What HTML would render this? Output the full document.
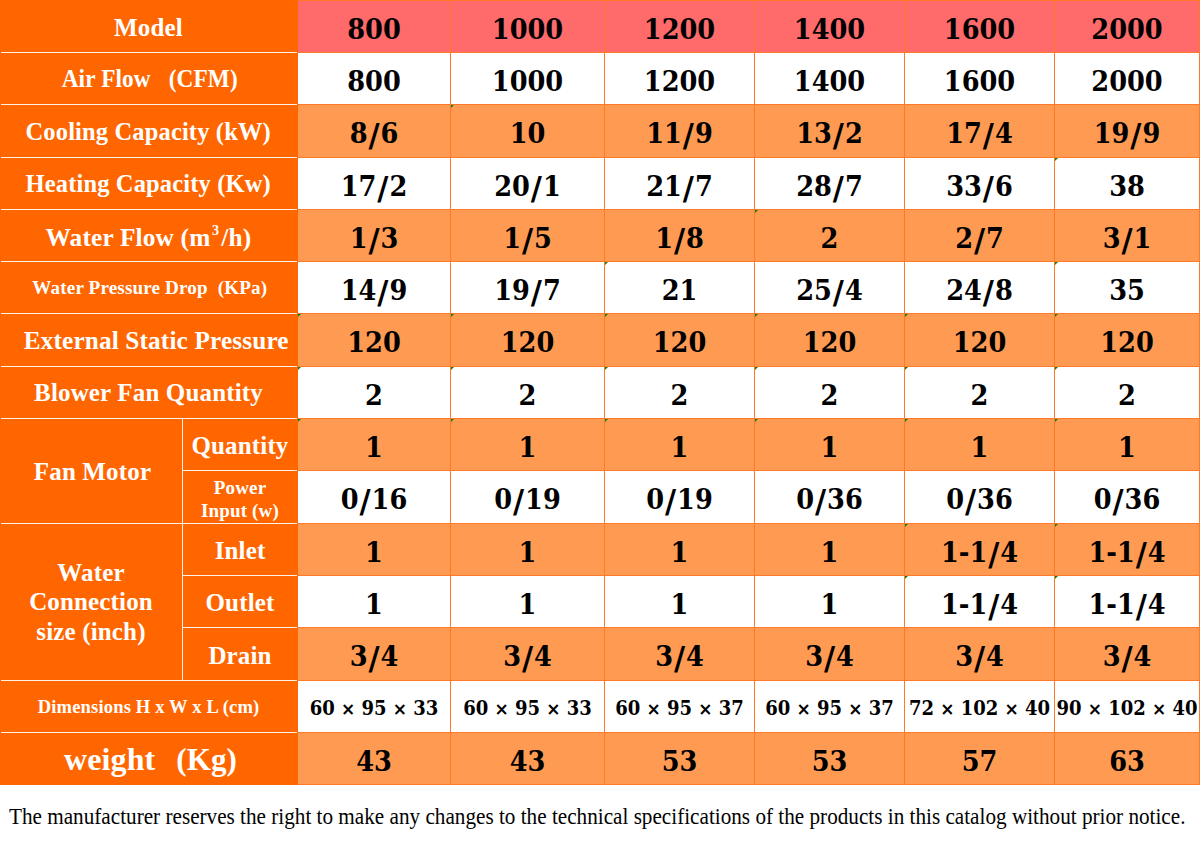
<!DOCTYPE html>
<html><head><meta charset="utf-8"><title>Technical specifications</title>
<style>
html,body{margin:0;padding:0;}
body{width:1200px;height:849px;position:relative;overflow:hidden;background:#fff;}
.b{position:absolute;}
.t{position:absolute;display:flex;align-items:center;justify-content:center;text-align:center;white-space:nowrap;box-sizing:border-box;}
.lb{font-family:"Liberation Serif",serif;font-weight:bold;color:#fff;font-size:25px;letter-spacing:0.15px;line-height:1;}
.g{position:absolute;width:0;height:0;border-top:3px solid #0A850A;border-right:3px solid transparent;}
.in{display:inline-block;transform-origin:50% 50%;}
.num{font-family:"DejaVu Serif",serif;font-weight:bold;color:#000;font-size:27px;line-height:1;padding-top:5px;transform:scaleX(0.95);}
.s{font-family:"DejaVu Sans",sans-serif;font-size:32px;line-height:0;position:relative;top:3px;margin:0 1px;}
.dim{font-family:"DejaVu Serif Condensed","DejaVu Serif",serif;font-size:20px;word-spacing:0;transform:none;padding-top:2px;}
.x{font-family:"DejaVu Sans",sans-serif;font-size:17px;}
.sp{font-size:14px;position:relative;top:-11px;margin:0 2px 0 1.5px;line-height:0;}
.note{position:absolute;left:9px;top:804px;font-family:"Liberation Serif",serif;font-size:23px;color:#000;white-space:nowrap;transform-origin:0 0;transform:scaleX(0.921);line-height:1.15;}
</style></head><body>

<div class="b" style="left:0;top:0;width:298px;height:785px;background:#FF6600"></div>
<div class="b" style="left:298px;top:0px;width:902px;height:52px;background:#FF6A6A"></div>
<div class="b" style="left:298px;top:52px;width:902px;height:52px;background:#FFFFFF"></div>
<div class="b" style="left:298px;top:104px;width:902px;height:53px;background:#FF9A52"></div>
<div class="b" style="left:298px;top:157px;width:902px;height:52px;background:#FFFFFF"></div>
<div class="b" style="left:298px;top:209px;width:902px;height:52px;background:#FF9A52"></div>
<div class="b" style="left:298px;top:261px;width:902px;height:52px;background:#FFFFFF"></div>
<div class="b" style="left:298px;top:313px;width:902px;height:53px;background:#FF9A52"></div>
<div class="b" style="left:298px;top:366px;width:902px;height:52px;background:#FFFFFF"></div>
<div class="b" style="left:298px;top:418px;width:902px;height:52px;background:#FF9A52"></div>
<div class="b" style="left:298px;top:470px;width:902px;height:53px;background:#FFFFFF"></div>
<div class="b" style="left:298px;top:523px;width:902px;height:52px;background:#FF9A52"></div>
<div class="b" style="left:298px;top:575px;width:902px;height:52px;background:#FFFFFF"></div>
<div class="b" style="left:298px;top:627px;width:902px;height:53px;background:#FF9A52"></div>
<div class="b" style="left:298px;top:680px;width:902px;height:52px;background:#FFFFFF"></div>
<div class="b" style="left:298px;top:732px;width:902px;height:52px;background:#FF9A52"></div>
<div class="b" style="left:298px;top:0px;width:902px;height:1px;background:#FF7A28"></div>
<div class="b" style="left:298px;top:52px;width:902px;height:1px;background:#FF7A28"></div>
<div class="b" style="left:298px;top:104px;width:902px;height:1px;background:#FF7A28"></div>
<div class="b" style="left:298px;top:157px;width:902px;height:1px;background:#FF7A28"></div>
<div class="b" style="left:298px;top:209px;width:902px;height:1px;background:#FF7A28"></div>
<div class="b" style="left:298px;top:261px;width:902px;height:1px;background:#FF7A28"></div>
<div class="b" style="left:298px;top:313px;width:902px;height:1px;background:#FF7A28"></div>
<div class="b" style="left:298px;top:366px;width:902px;height:1px;background:#FF7A28"></div>
<div class="b" style="left:298px;top:418px;width:902px;height:1px;background:#FF7A28"></div>
<div class="b" style="left:298px;top:470px;width:902px;height:1px;background:#FF7A28"></div>
<div class="b" style="left:298px;top:523px;width:902px;height:1px;background:#FF7A28"></div>
<div class="b" style="left:298px;top:575px;width:902px;height:1px;background:#FF7A28"></div>
<div class="b" style="left:298px;top:627px;width:902px;height:1px;background:#FF7A28"></div>
<div class="b" style="left:298px;top:680px;width:902px;height:1px;background:#FF7A28"></div>
<div class="b" style="left:298px;top:732px;width:902px;height:1px;background:#FF7A28"></div>
<div class="b" style="left:298px;top:784px;width:902px;height:1px;background:#FF7A28"></div>
<div class="b" style="left:450px;top:0;width:1px;height:785px;background:#FF7A28"></div>
<div class="b" style="left:604px;top:0;width:1px;height:785px;background:#FF7A28"></div>
<div class="b" style="left:754px;top:0;width:1px;height:785px;background:#FF7A28"></div>
<div class="b" style="left:904px;top:0;width:1px;height:785px;background:#FF7A28"></div>
<div class="b" style="left:1054px;top:0;width:1px;height:785px;background:#FF7A28"></div>
<div class="b" style="left:1199px;top:0;width:1px;height:785px;background:#FF7A28"></div>
<div class="b" style="left:1px;top:52px;width:296px;height:1px;background:#FFF2E6"></div>
<div class="b" style="left:1px;top:104px;width:296px;height:1px;background:#FFF2E6"></div>
<div class="b" style="left:1px;top:157px;width:296px;height:1px;background:#FFF2E6"></div>
<div class="b" style="left:1px;top:209px;width:296px;height:1px;background:#FFF2E6"></div>
<div class="b" style="left:1px;top:261px;width:296px;height:1px;background:#FFF2E6"></div>
<div class="b" style="left:1px;top:313px;width:296px;height:1px;background:#FFF2E6"></div>
<div class="b" style="left:1px;top:366px;width:296px;height:1px;background:#FFF2E6"></div>
<div class="b" style="left:1px;top:418px;width:296px;height:1px;background:#FFF2E6"></div>
<div class="b" style="left:183px;top:470px;width:114px;height:1px;background:#FFF2E6"></div>
<div class="b" style="left:1px;top:523px;width:296px;height:1px;background:#FFF2E6"></div>
<div class="b" style="left:183px;top:575px;width:114px;height:1px;background:#FFF2E6"></div>
<div class="b" style="left:183px;top:627px;width:114px;height:1px;background:#FFF2E6"></div>
<div class="b" style="left:1px;top:680px;width:296px;height:1px;background:#FFF2E6"></div>
<div class="b" style="left:1px;top:732px;width:296px;height:1px;background:#FFF2E6"></div>
<div class="b" style="left:182px;top:419px;width:1px;height:261px;background:#FFF2E6"></div>
<div class="t lb" style="left:0px;top:1px;width:297px;height:51px;"><span class="in" style="transform:translate(0px,1px)">Model</span></div>
<div class="t lb" style="left:0px;top:53px;width:297px;height:51px;"><span class="in" style="transform:translate(1px,0px) scaleX(0.93)">Air Flow &nbsp;&nbsp;(CFM)</span></div>
<div class="t lb" style="left:0px;top:105px;width:297px;height:52px;"><span class="in" style="transform:scaleX(0.98)">Cooling Capacity (kW)</span></div>
<div class="t lb" style="left:0px;top:158px;width:297px;height:51px;"><span class="in" style="transform:scaleX(0.98)">Heating Capacity (Kw)</span></div>
<div class="t lb" style="left:0px;top:210px;width:297px;height:51px;"><span class="in" style="transform:translate(0px,2px) scaleX(1.015)">Water Flow (m<span class="sp">3</span>/h)</span></div>
<div class="t lb" style="left:0px;top:262px;width:297px;height:51px;font-size:18px;"><span class="in" style="transform:translate(1px,0px) scaleX(1.06)">Water Pressure Drop &nbsp;(KPa)</span></div>
<div class="t lb" style="left:0px;top:314px;width:297px;height:52px;"><span class="in" style="transform:translate(8px,0px) scaleX(1.01)">External Static Pressure</span></div>
<div class="t lb" style="left:0px;top:367px;width:297px;height:51px;">Blower Fan Quantity</div>
<div class="t lb" style="left:183px;top:419px;width:114px;height:51px;"><span class="in" style="transform:translate(0px,1px)">Quantity</span></div>
<div class="t lb" style="left:183px;top:471px;width:114px;height:52px;font-size:19px;line-height:23px;"><span class="in" style="transform:translate(0px,2px)">Power<br>Input (w)</span></div>
<div class="t lb" style="left:183px;top:524px;width:114px;height:51px;"><span class="in" style="transform:translate(0px,1px)">Inlet</span></div>
<div class="t lb" style="left:183px;top:576px;width:114px;height:51px;"><span class="in" style="transform:translate(0px,1px)">Outlet</span></div>
<div class="t lb" style="left:183px;top:628px;width:114px;height:52px;"><span class="in" style="transform:translate(0px,1px)">Drain</span></div>
<div class="t lb" style="left:0px;top:681px;width:297px;height:51px;font-size:18px;"><span class="in" style="transform:scaleX(1.03)">Dimensions H x W x L (cm)</span></div>
<div class="t lb" style="left:0px;top:733px;width:297px;height:51px;font-size:31px;"><span class="in" style="transform:translate(2px,0)"><span style="font-size:32px;margin-right:5px">weight</span>&nbsp;&nbsp;(Kg)</span></div>
<div class="t lb" style="left:0px;top:419px;width:182px;height:104px;"><span class="in" style="transform:translate(1.5px,0)">Fan Motor</span></div>
<div class="t lb" style="left:0px;top:524px;width:182px;height:156px;line-height:29.4px;"><span class="in" style="transform:translate(0,-0.5px)">Water<br>Connection<br>size (inch)</span></div>
<div class="t num" style="left:298px;top:1px;width:152px;height:51px"><span>800</span></div>
<div class="t num" style="left:451px;top:1px;width:153px;height:51px"><span>1000</span></div>
<div class="t num" style="left:605px;top:1px;width:149px;height:51px"><span>1200</span></div>
<div class="t num" style="left:755px;top:1px;width:149px;height:51px"><span>1400</span></div>
<div class="t num" style="left:905px;top:1px;width:149px;height:51px"><span>1600</span></div>
<div class="t num" style="left:1055px;top:1px;width:144px;height:51px"><span>2000</span></div>
<div class="t num" style="left:298px;top:53px;width:152px;height:51px"><span>800</span></div>
<div class="t num" style="left:451px;top:53px;width:153px;height:51px"><span>1000</span></div>
<div class="t num" style="left:605px;top:53px;width:149px;height:51px"><span>1200</span></div>
<div class="t num" style="left:755px;top:53px;width:149px;height:51px"><span>1400</span></div>
<div class="t num" style="left:905px;top:53px;width:149px;height:51px"><span>1600</span></div>
<div class="t num" style="left:1055px;top:53px;width:144px;height:51px"><span>2000</span></div>
<div class="t num" style="left:298px;top:105px;width:152px;height:52px"><span>8<span class="s">/</span>6</span></div>
<div class="t num" style="left:451px;top:105px;width:153px;height:52px"><span>10</span></div>
<div class="t num" style="left:605px;top:105px;width:149px;height:52px"><span>11<span class="s">/</span>9</span></div>
<div class="t num" style="left:755px;top:105px;width:149px;height:52px"><span>13<span class="s">/</span>2</span></div>
<div class="t num" style="left:905px;top:105px;width:149px;height:52px"><span>17<span class="s">/</span>4</span></div>
<div class="t num" style="left:1055px;top:105px;width:144px;height:52px"><span>19<span class="s">/</span>9</span></div>
<div class="t num" style="left:298px;top:158px;width:152px;height:51px"><span>17<span class="s">/</span>2</span></div>
<div class="t num" style="left:451px;top:158px;width:153px;height:51px"><span>20<span class="s">/</span>1</span></div>
<div class="t num" style="left:605px;top:158px;width:149px;height:51px"><span>21<span class="s">/</span>7</span></div>
<div class="t num" style="left:755px;top:158px;width:149px;height:51px"><span>28<span class="s">/</span>7</span></div>
<div class="t num" style="left:905px;top:158px;width:149px;height:51px"><span>33<span class="s">/</span>6</span></div>
<div class="t num" style="left:1055px;top:158px;width:144px;height:51px"><span>38</span></div>
<div class="t num" style="left:298px;top:210px;width:152px;height:51px"><span>1<span class="s">/</span>3</span></div>
<div class="t num" style="left:451px;top:210px;width:153px;height:51px"><span>1<span class="s">/</span>5</span></div>
<div class="t num" style="left:605px;top:210px;width:149px;height:51px"><span>1<span class="s">/</span>8</span></div>
<div class="t num" style="left:755px;top:210px;width:149px;height:51px"><span>2</span></div>
<div class="t num" style="left:905px;top:210px;width:149px;height:51px"><span>2<span class="s">/</span>7</span></div>
<div class="t num" style="left:1055px;top:210px;width:144px;height:51px"><span>3<span class="s">/</span>1</span></div>
<div class="t num" style="left:298px;top:262px;width:152px;height:51px"><span>14<span class="s">/</span>9</span></div>
<div class="t num" style="left:451px;top:262px;width:153px;height:51px"><span>19<span class="s">/</span>7</span></div>
<div class="t num" style="left:605px;top:262px;width:149px;height:51px"><span>21</span></div>
<div class="t num" style="left:755px;top:262px;width:149px;height:51px"><span>25<span class="s">/</span>4</span></div>
<div class="t num" style="left:905px;top:262px;width:149px;height:51px"><span>24<span class="s">/</span>8</span></div>
<div class="t num" style="left:1055px;top:262px;width:144px;height:51px"><span>35</span></div>
<div class="t num" style="left:298px;top:314px;width:152px;height:52px"><span>120</span></div>
<div class="t num" style="left:451px;top:314px;width:153px;height:52px"><span>120</span></div>
<div class="t num" style="left:605px;top:314px;width:149px;height:52px"><span>120</span></div>
<div class="t num" style="left:755px;top:314px;width:149px;height:52px"><span>120</span></div>
<div class="t num" style="left:905px;top:314px;width:149px;height:52px"><span>120</span></div>
<div class="t num" style="left:1055px;top:314px;width:144px;height:52px"><span>120</span></div>
<div class="t num" style="left:298px;top:367px;width:152px;height:51px"><span>2</span></div>
<div class="t num" style="left:451px;top:367px;width:153px;height:51px"><span>2</span></div>
<div class="t num" style="left:605px;top:367px;width:149px;height:51px"><span>2</span></div>
<div class="t num" style="left:755px;top:367px;width:149px;height:51px"><span>2</span></div>
<div class="t num" style="left:905px;top:367px;width:149px;height:51px"><span>2</span></div>
<div class="t num" style="left:1055px;top:367px;width:144px;height:51px"><span>2</span></div>
<div class="t num" style="left:298px;top:419px;width:152px;height:51px"><span>1</span></div>
<div class="t num" style="left:451px;top:419px;width:153px;height:51px"><span>1</span></div>
<div class="t num" style="left:605px;top:419px;width:149px;height:51px"><span>1</span></div>
<div class="t num" style="left:755px;top:419px;width:149px;height:51px"><span>1</span></div>
<div class="t num" style="left:905px;top:419px;width:149px;height:51px"><span>1</span></div>
<div class="t num" style="left:1055px;top:419px;width:144px;height:51px"><span>1</span></div>
<div class="t num" style="left:298px;top:471px;width:152px;height:52px"><span>0<span class="s">/</span>16</span></div>
<div class="t num" style="left:451px;top:471px;width:153px;height:52px"><span>0<span class="s">/</span>19</span></div>
<div class="t num" style="left:605px;top:471px;width:149px;height:52px"><span>0<span class="s">/</span>19</span></div>
<div class="t num" style="left:755px;top:471px;width:149px;height:52px"><span>0<span class="s">/</span>36</span></div>
<div class="t num" style="left:905px;top:471px;width:149px;height:52px"><span>0<span class="s">/</span>36</span></div>
<div class="t num" style="left:1055px;top:471px;width:144px;height:52px"><span>0<span class="s">/</span>36</span></div>
<div class="t num" style="left:298px;top:524px;width:152px;height:51px"><span>1</span></div>
<div class="t num" style="left:451px;top:524px;width:153px;height:51px"><span>1</span></div>
<div class="t num" style="left:605px;top:524px;width:149px;height:51px"><span>1</span></div>
<div class="t num" style="left:755px;top:524px;width:149px;height:51px"><span>1</span></div>
<div class="t num" style="left:905px;top:524px;width:149px;height:51px"><span>1-1<span class="s">/</span>4</span></div>
<div class="t num" style="left:1055px;top:524px;width:144px;height:51px"><span>1-1<span class="s">/</span>4</span></div>
<div class="t num" style="left:298px;top:576px;width:152px;height:51px"><span>1</span></div>
<div class="t num" style="left:451px;top:576px;width:153px;height:51px"><span>1</span></div>
<div class="t num" style="left:605px;top:576px;width:149px;height:51px"><span>1</span></div>
<div class="t num" style="left:755px;top:576px;width:149px;height:51px"><span>1</span></div>
<div class="t num" style="left:905px;top:576px;width:149px;height:51px"><span>1-1<span class="s">/</span>4</span></div>
<div class="t num" style="left:1055px;top:576px;width:144px;height:51px"><span>1-1<span class="s">/</span>4</span></div>
<div class="t num" style="left:298px;top:628px;width:152px;height:52px"><span>3<span class="s">/</span>4</span></div>
<div class="t num" style="left:451px;top:628px;width:153px;height:52px"><span>3<span class="s">/</span>4</span></div>
<div class="t num" style="left:605px;top:628px;width:149px;height:52px"><span>3<span class="s">/</span>4</span></div>
<div class="t num" style="left:755px;top:628px;width:149px;height:52px"><span>3<span class="s">/</span>4</span></div>
<div class="t num" style="left:905px;top:628px;width:149px;height:52px"><span>3<span class="s">/</span>4</span></div>
<div class="t num" style="left:1055px;top:628px;width:144px;height:52px"><span>3<span class="s">/</span>4</span></div>
<div class="t num dim" style="left:298px;top:681px;width:152px;height:51px"><span>60 <span class="x">×</span> 95 <span class="x">×</span> 33</span></div>
<div class="t num dim" style="left:451px;top:681px;width:153px;height:51px"><span>60 <span class="x">×</span> 95 <span class="x">×</span> 33</span></div>
<div class="t num dim" style="left:605px;top:681px;width:149px;height:51px"><span>60 <span class="x">×</span> 95 <span class="x">×</span> 37</span></div>
<div class="t num dim" style="left:755px;top:681px;width:149px;height:51px"><span>60 <span class="x">×</span> 95 <span class="x">×</span> 37</span></div>
<div class="t num dim" style="left:905px;top:681px;width:149px;height:51px"><span>72 <span class="x">×</span> 102 <span class="x">×</span> 40</span></div>
<div class="t num dim" style="left:1055px;top:681px;width:144px;height:51px"><span>90 <span class="x">×</span> 102 <span class="x">×</span> 40</span></div>
<div class="t num" style="left:298px;top:733px;width:152px;height:51px"><span>43</span></div>
<div class="t num" style="left:451px;top:733px;width:153px;height:51px"><span>43</span></div>
<div class="t num" style="left:605px;top:733px;width:149px;height:51px"><span>53</span></div>
<div class="t num" style="left:755px;top:733px;width:149px;height:51px"><span>53</span></div>
<div class="t num" style="left:905px;top:733px;width:149px;height:51px"><span>57</span></div>
<div class="t num" style="left:1055px;top:733px;width:144px;height:51px"><span>63</span></div>
<div class="g" style="left:451px;top:105px"></div>
<div class="g" style="left:1055px;top:158px"></div>
<div class="g" style="left:755px;top:210px"></div>
<div class="g" style="left:605px;top:262px"></div>
<div class="g" style="left:1055px;top:262px"></div>
<div class="g" style="left:298px;top:314px"></div>
<div class="g" style="left:451px;top:314px"></div>
<div class="g" style="left:605px;top:314px"></div>
<div class="g" style="left:755px;top:314px"></div>
<div class="g" style="left:905px;top:314px"></div>
<div class="g" style="left:1055px;top:314px"></div>
<div class="g" style="left:298px;top:367px"></div>
<div class="g" style="left:451px;top:367px"></div>
<div class="g" style="left:605px;top:367px"></div>
<div class="g" style="left:755px;top:367px"></div>
<div class="g" style="left:905px;top:367px"></div>
<div class="g" style="left:1055px;top:367px"></div>
<div class="g" style="left:298px;top:419px"></div>
<div class="g" style="left:451px;top:419px"></div>
<div class="g" style="left:605px;top:419px"></div>
<div class="g" style="left:755px;top:419px"></div>
<div class="g" style="left:905px;top:419px"></div>
<div class="g" style="left:1055px;top:419px"></div>
<div class="g" style="left:905px;top:524px"></div>
<div class="g" style="left:1055px;top:524px"></div>
<div class="g" style="left:905px;top:576px"></div>
<div class="g" style="left:1055px;top:576px"></div>
<div class="note">The manufacturer reserves the right to make any changes to the technical specifications of the products in this catalog without prior notice.</div>
</body></html>
